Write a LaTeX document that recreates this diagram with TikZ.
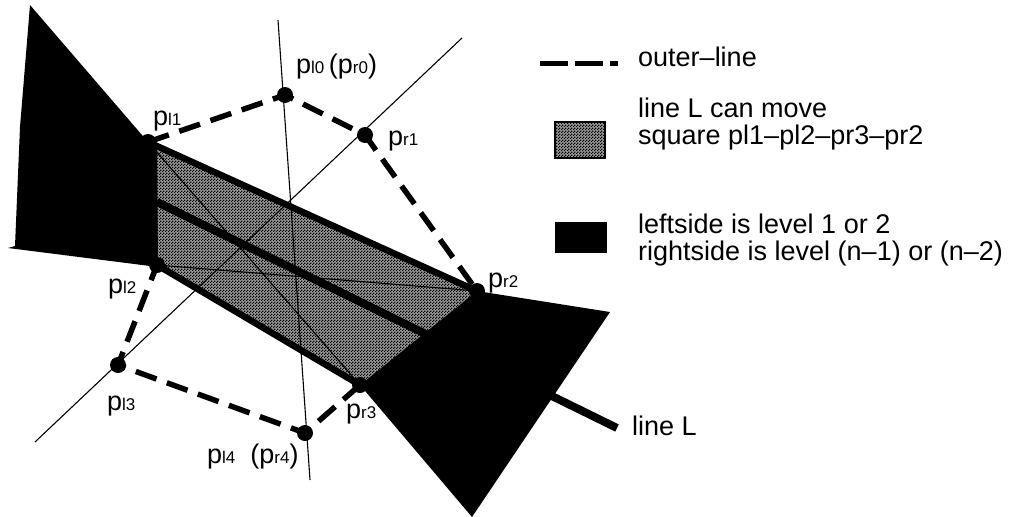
\documentclass[tikz,border=0pt]{standalone}
\usepackage{fontspec}
\setmainfont{Liberation Sans}
\usetikzlibrary{patterns}
\pgfdeclarepatternformonly{checker}{\pgfpointorigin}{\pgfpoint{3pt}{3pt}}{\pgfpoint{3pt}{3pt}}{%
  \pgfpathrectangle{\pgfpointorigin}{\pgfpoint{1.5pt}{1.5pt}}%
  \pgfpathrectangle{\pgfpoint{1.5pt}{1.5pt}}{\pgfpoint{1.5pt}{1.5pt}}%
  \pgfusepath{fill}}
\newcommand{\plab}[1]{{\fontsize{27}{27}\selectfont p}{\fontsize{17}{17}\selectfont #1}}
\tikzset{
  outer/.style={line width=5.5pt, dash pattern=on 22pt off 11pt},
  bandline/.style={line width=6.5pt},
  lineL/.style={line width=8pt},
  thinline/.style={line width=1.1pt},
  movefill/.style={fill=black!40, postaction={pattern=checker}},
  dot/.style={circle, fill=black, inner sep=0pt, minimum size=16pt},
  lab/.style={inner sep=0pt, anchor=base west, font=\fontsize{27}{27}\selectfont},
}
\begin{document}
\begin{tikzpicture}[x=1pt,y=-1pt]
\fill[white] (0,0) rectangle (1018,517);
\useasboundingbox (0,0) rectangle (1018,517);
\coordinate[] (PL0) at (285,95);
\coordinate[] (PL1) at (148,142);
\coordinate[] (PL2) at (157,265);
\coordinate[] (PL3) at (118,365);
\coordinate[] (PL4) at (305,433);
\coordinate[] (PR1) at (365,135);
\coordinate[] (PR2) at (477,291);
\coordinate[] (PR3) at (360,385);
\coordinate[] (LB1) at (30,5);
\coordinate[] (LB2) at (157,148);
\coordinate[] (LB3) at (158,267);
\coordinate[] (LB4) at (8,248);
\coordinate[] (LB5) at (15,246);
\coordinate[] (LB6) at (20,127);
\coordinate[] (RB1) at (610,312);
\coordinate[] (RB2) at (472,517);
\coordinate[] (L0) at (157,202);
\coordinate[] (L1) at (617,428);
\coordinate[] (V0) at (278,20);
\coordinate[] (V1) at (310,480);
\coordinate[] (D0) at (35,442);
\coordinate[] (D1) at (462,38);

% movable square
\fill [movefill] (PL1) -- (PR2) -- (PR3) -- (PL2) -- cycle;
\draw [thinline] (V0) -- (V1);
\draw [thinline] (D0) -- (D1);
\draw [thinline] (PL1) -- (PR3);
\draw [thinline] (PL2) -- (PR2);

% level regions
\fill (LB1) -- (PL1) -- (LB2) -- (LB3) -- (LB4) -- (LB5) -- (LB6) -- cycle;
\fill (PR2) -- (RB1) -- (RB2) -- (PR3) -- cycle;

\draw [bandline] (PL1) -- (PR2);
\draw [bandline] (PL2) -- (PR3);
\draw [lineL] (L0) -- (L1);

% outer-line
\draw [outer] (PL1) -- (PL0) -- (PR1) -- (PR2);
\draw [outer] (PR3) -- (PL4) -- (PL3) -- (PL2);

\foreach \p in {PL0,PL1,PL2,PL3,PL4,PR1,PR2,PR3}
  \node[dot] (dot\p) at (\p) {};

\node[lab] (labPL0) at (296,73) {\plab{l0}\,({\plab{r0}})};
\node[lab] (labPL1) at (153,125) {\plab{l1}};
\node[lab] (labPL2) at (108,293) {\plab{l2}};
\node[lab] (labPL3) at (107,410) {\plab{l3}};
\node[lab] (labPL4) at (207,463) {\plab{l4}\ \ ({\plab{r4}})};
\node[lab] (labPR1) at (388,145) {\plab{r1}};
\node[lab] (labPR2) at (488,287) {\plab{r2}};
\node[lab] (labPR3) at (346,418) {\plab{r3}};
\node[lab] (labL) at (632,435) {line L};

% legend
\coordinate[] (K0) at (540,63);
\coordinate[] (K1) at (618,63);
\draw [line width=5pt, dash pattern=on 28pt off 7pt] (K0) -- (K1);
\node[lab] (legOuter) at (638,66) {outer--line};
\draw [thinline, movefill] (555,122) rectangle (605,158);
\node[lab] (legMove1) at (638,117) {line L can move};
\node[lab] (legMove2) at (638,144) {square pl1--pl2--pr3--pr2};
\fill (555,222) rectangle (607,253);
\node[lab] (legLevel1) at (638,233) {leftside is level 1 or 2};
\node[lab] (legLevel2) at (638,260) {rightside is level (n--1) or (n--2)};
\end{tikzpicture}
\end{document}
